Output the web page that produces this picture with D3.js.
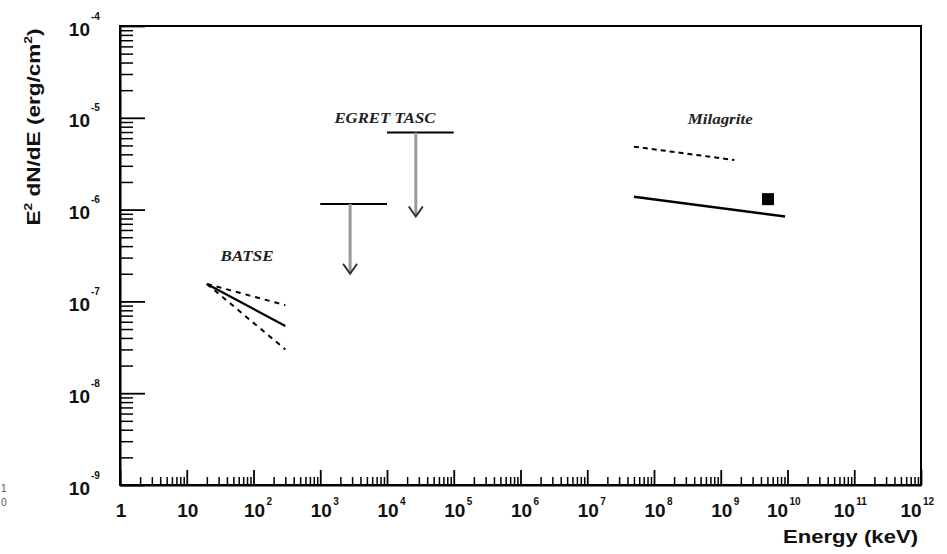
<!DOCTYPE html>
<html>
<head>
<meta charset="utf-8">
<script src="https://cdn.jsdelivr.net/npm/d3@7"></script>
<style>
  html, body { margin: 0; padding: 0; background: #fff; }
  svg { display: block; }
  .axis path, .axis line { stroke: #000; }
</style>
</head>
<body>
<svg id="chart" width="947" height="554"></svg>
<script>
// ---- data ----------------------------------------------------------------
const xMajorTicks = [1e0, 1e1, 1e2, 1e3, 1e4, 1e5, 1e6, 1e7, 1e8, 1e9, 1e10, 1e11, 1e12];
const yMajorTicks = [1e-9, 1e-8, 1e-7, 1e-6, 1e-5, 1e-4];

// BATSE power-law fits (energy keV, E^2 dN/dE erg/cm^2)
const batseEnergy = [20, 300];
const batseBest   = [1.55e-7, 5.4e-8];
const batseUpper  = [1.55e-7, 9.1e-8];
const batseLower  = [1.55e-7, 3.0e-8];

// EGRET TASC upper limits: band edges, flux level, arrow energy, arrow tip
const egretLow    = [1e3, 1e4];
const egretHigh   = [1e4, 1e5];
const egretLimit  = [1.15e-6, 6.9e-6];
const egretArrowE = [2.8e3, 2.7e4];
const egretArrowTip = [2.0e-7, 8.4e-7];

// Milagrite sensitivity curves and point
const milagriteEnergyDashed = [5e7, 1.6e9];
const milagriteDashed       = [4.85e-6, 3.47e-6];
const milagriteEnergySolid  = [5e7, 9.2e9];
const milagriteSolid        = [1.38e-6, 8.4e-7];
const milagritePointE = [5.1e9];
const milagritePointF = [1.3e-6];

// Instrument labels: text, energy, flux (label baseline)
const labelText   = ["BATSE", "EGRET TASC", "Milagrite"];
const labelEnergy = [80, 9.3e3, 9.8e8];
const labelFlux   = [2.75e-7, 8.8e-6, 8.5e-6];

// ---- layout ---------------------------------------------------------------
const W = 947, H = 554;
const margin = { left: 120, right: 26, top: 26, bottom: 69 };
const svg = d3.select("#chart");

const x = d3.scaleLog().domain([1, 1e12]).range([margin.left, W - margin.right]);
const y = d3.scaleLog().domain([1e-9, 1e-4]).range([H - margin.bottom, margin.top]);

const minorOf = majors => {
  const out = [];
  for (let i = 0; i < majors.length - 1; i++)
    for (let m = 2; m <= 9; m++) out.push(m * majors[i]);
  return out;
};
const xMinorTicks = minorOf(xMajorTicks);
const yMinorTicks = minorOf(yMajorTicks);

const sansFont = "'Liberation Sans', Arial, Helvetica, sans-serif";
const serifFont = "'Liberation Serif', 'Times New Roman', serif";

// frame
svg.append("rect")
  .attr("x", margin.left).attr("y", margin.top)
  .attr("width", W - margin.left - margin.right)
  .attr("height", H - margin.top - margin.bottom)
  .attr("fill", "none").attr("stroke", "#000").attr("stroke-width", 2);

// ---- x axis ---------------------------------------------------------------
const xAxisG = svg.append("g").attr("class", "axis")
  .attr("transform", `translate(0,${H - margin.bottom})`);
xAxisG.append("g")
  .call(d3.axisBottom(x).tickValues(xMinorTicks).tickSizeInner(-8).tickSizeOuter(0).tickFormat(""))
  .call(g => g.select(".domain").remove())
  .selectAll("line").attr("stroke-width", 1.5);
const xMajorG = xAxisG.append("g")
  .call(d3.axisBottom(x).tickValues(xMajorTicks).tickSizeInner(-15).tickSizeOuter(0).tickFormat(""));
xMajorG.select(".domain").attr("stroke-width", 2);
xMajorG.selectAll("line").attr("stroke-width", 1.8);
xMajorG.selectAll(".tick").each(function (d) {
  const e = Math.round(Math.log10(d));
  const g = d3.select(this);
  const base = e <= 1 ? String(d) : "10";
  const dx = e >= 10 ? -10.5 : 0.5;
  g.append("text")
    .attr("x", dx).attr("y", 32)
    .attr("text-anchor", "middle")
    .attr("font-family", sansFont).attr("font-weight", "bold")
    .attr("font-size", 19).attr("fill", "#111")
    .text(base);
  if (e >= 2) {
    g.append("text")
      .attr("x", dx + 12).attr("y", 20)
      .attr("text-anchor", "start")
      .attr("font-family", sansFont).attr("font-weight", "bold")
      .attr("font-size", 10).attr("fill", "#111")
      .text(e);
  }
});

// ---- y axis ---------------------------------------------------------------
const yAxisG = svg.append("g").attr("class", "axis")
  .attr("transform", `translate(${margin.left},0)`);
yAxisG.append("g")
  .call(d3.axisLeft(y).tickValues(yMinorTicks).tickSizeInner(-13).tickSizeOuter(0).tickFormat(""))
  .call(g => g.select(".domain").remove())
  .selectAll("line").attr("stroke-width", 1.5);
const yMajorG = yAxisG.append("g")
  .call(d3.axisLeft(y).tickValues(yMajorTicks).tickSizeInner(-25).tickSizeOuter(0).tickFormat(""));
yMajorG.select(".domain").attr("stroke-width", 2);
yMajorG.selectAll("line").attr("stroke-width", 1.8);
yMajorG.selectAll(".tick").each(function (d) {
  const e = Math.round(Math.log10(d));
  const g = d3.select(this);
  g.append("text")
    .attr("x", -30).attr("y", 9)
    .attr("text-anchor", "end")
    .attr("font-family", sansFont).attr("font-weight", "bold")
    .attr("font-size", 19).attr("fill", "#111")
    .text("10");
  g.append("text")
    .attr("x", -29).attr("y", -7)
    .attr("text-anchor", "start")
    .attr("font-family", sansFont).attr("font-weight", "bold")
    .attr("font-size", 10).attr("fill", "#111")
    .text(e);
});

// ---- axis titles ------------------------------------------------------------
svg.append("text")
  .attr("x", 918).attr("y", 543)
  .attr("text-anchor", "end")
  .attr("font-family", sansFont).attr("font-weight", "bold")
  .attr("font-size", 18).attr("fill", "#111")
  .attr("textLength", 135).attr("lengthAdjust", "spacingAndGlyphs")
  .text("Energy (keV)");

const yTitle = svg.append("text")
  .attr("transform", "translate(40,127) rotate(-90)")
  .attr("text-anchor", "middle")
  .attr("font-family", sansFont).attr("font-weight", "bold")
  .attr("font-size", 18).attr("fill", "#111")
  .attr("textLength", 197).attr("lengthAdjust", "spacingAndGlyphs");
yTitle.append("tspan").text("E");
yTitle.append("tspan").attr("dy", -8).attr("font-size", 11).text("2");
yTitle.append("tspan").attr("dy", 8).text(" dN/dE (erg/cm");
yTitle.append("tspan").attr("dy", -8).attr("font-size", 11).text("2");
yTitle.append("tspan").attr("dy", 8).text(")");

// small margin digits at the lower-left edge
svg.append("text").attr("x", 1).attr("y", 492)
  .attr("font-family", sansFont).attr("font-size", 10).attr("fill", "#555").text("1");
svg.append("text").attr("x", 1).attr("y", 506)
  .attr("font-family", sansFont).attr("font-size", 10).attr("fill", "#555").text("0");

// ---- data marks -------------------------------------------------------------
const line = d3.line().x(d => x(d[0])).y(d => y(d[1]));
const plot = svg.append("g");

function drawSegment(es, fs, dash, width) {
  plot.append("path")
    .datum(d3.zip(es, fs))
    .attr("d", line)
    .attr("fill", "none").attr("stroke", "#000")
    .attr("stroke-width", width)
    .attr("stroke-dasharray", dash);
}

// BATSE
drawSegment(batseEnergy, batseUpper, "5,5", 2);
drawSegment(batseEnergy, batseLower, "5,5", 2);
drawSegment(batseEnergy, batseBest, null, 2.2);

// EGRET TASC upper limits
egretLimit.forEach((f, i) => {
  plot.append("line")
    .attr("x1", x(egretLow[i])).attr("x2", x(egretHigh[i]))
    .attr("y1", y(f)).attr("y2", y(f))
    .attr("stroke", "#000").attr("stroke-width", 2);
  const ax = x(egretArrowE[i]);
  const tip = y(egretArrowTip[i]);
  plot.append("line")
    .attr("x1", ax).attr("x2", ax)
    .attr("y1", y(f)).attr("y2", tip - 1)
    .attr("stroke", "#999").attr("stroke-width", 3);
  plot.append("path")
    .attr("d", `M${ax - 7},${tip - 10}L${ax},${tip}L${ax + 7},${tip - 10}`)
    .attr("fill", "none").attr("stroke", "#333").attr("stroke-width", 2);
});

// Milagrite
drawSegment(milagriteEnergyDashed, milagriteDashed, "5,4", 2);
drawSegment(milagriteEnergySolid, milagriteSolid, null, 2.4);
plot.selectAll("rect.pt")
  .data(d3.zip(milagritePointE, milagritePointF))
  .join("rect").attr("class", "pt")
  .attr("x", d => x(d[0]) - 6).attr("y", d => y(d[1]) - 6)
  .attr("width", 12).attr("height", 12).attr("fill", "#000");

// instrument labels
const labelWidths = [53, 101, 65];
labelText.forEach((t, i) => {
  plot.append("text")
    .attr("x", x(labelEnergy[i])).attr("y", y(labelFlux[i]))
    .attr("text-anchor", "middle")
    .attr("font-family", serifFont).attr("font-weight", "bold").attr("font-style", "italic")
    .attr("font-size", 14).attr("fill", "#222")
    .attr("textLength", labelWidths[i]).attr("lengthAdjust", "spacingAndGlyphs")
    .text(t);
});
</script>
</body>
</html>
